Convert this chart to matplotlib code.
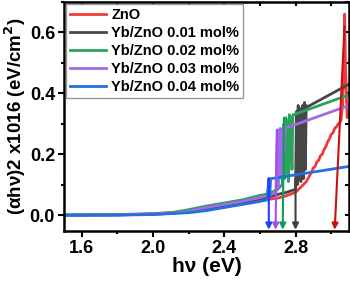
import numpy as np
import matplotlib
matplotlib.use('Agg')
import matplotlib.pyplot as plt
from matplotlib.ticker import MultipleLocator

plt.rcParams['font.family'] = ['Liberation Sans', 'DejaVu Sans']
plt.rcParams['font.weight'] = 'bold'

labels = ['ZnO', 'Yb/ZnO 0.01 mol%', 'Yb/ZnO 0.02 mol%',
          'Yb/ZnO 0.03 mol%', 'Yb/ZnO 0.04 mol%']
colors = ['#f03a3a', '#474747', '#2aa45a', '#a468e8', '#2070e0']
arrow_colors = ['#c81010', '#404040', '#109a60', '#a050f0', '#2040ff']

# ZnO
x_zno = [1.5, 1.8, 2.0, 2.2, 2.4, 2.5, 2.6, 2.7, 2.75, 2.8, 2.83, 2.86, 2.88,
         2.9, 2.91, 2.92, 2.93, 2.94, 2.95, 2.96, 2.97, 2.98, 2.99, 3.0, 3.01,
         3.02, 3.03, 3.04, 3.05, 3.055, 3.06, 3.065, 3.07, 3.073, 3.076, 3.08,
         3.085, 3.09, 3.1]
y_zno = [0.0, 0.002, 0.005, 0.012, 0.028, 0.038, 0.048, 0.056, 0.064, 0.075,
         0.092, 0.11, 0.13, 0.155, 0.16, 0.175, 0.18, 0.195, 0.2, 0.215, 0.225,
         0.24, 0.25, 0.265, 0.27, 0.285, 0.29, 0.3, 0.305, 0.31, 0.34, 0.36,
         0.5, 0.42, 0.66, 0.5, 0.4, 0.32, 0.34]

# Yb 0.01
x_01 = [1.5, 1.8, 2.0, 2.2, 2.3, 2.4, 2.5, 2.6, 2.65, 2.7, 2.75, 2.8,
        2.805, 2.81, 2.815, 2.82, 2.825, 2.83, 2.835, 2.84, 2.845, 2.85,
        2.855, 2.86, 2.865, 3.1]
y_01 = [0.0, 0.001, 0.003, 0.01, 0.02, 0.03, 0.04, 0.05, 0.06, 0.068, 0.075,
        0.085, 0.34, 0.1, 0.36, 0.12, 0.35, 0.11, 0.2, 0.36, 0.12, 0.37, 0.15,
        0.36, 0.355, 0.43]

# Yb 0.02
x_02 = [1.5, 1.8, 2.0, 2.1, 2.2, 2.3, 2.4, 2.5, 2.6, 2.65, 2.7, 2.725,
        2.735, 2.74, 2.745, 2.75, 2.755, 2.76, 2.765, 2.77, 2.775, 2.78,
        2.785, 2.79, 3.1]
y_02 = [0.0, 0.001, 0.004, 0.008, 0.018, 0.03, 0.04, 0.05, 0.065, 0.07,
        0.085, 0.1, 0.3, 0.12, 0.32, 0.14, 0.31, 0.11, 0.33, 0.18, 0.32, 0.15,
        0.33, 0.33, 0.395]

# Yb 0.03
x_03 = [1.5, 1.8, 2.0, 2.1, 2.2, 2.3, 2.4, 2.5, 2.6, 2.65, 2.69, 2.698,
        2.702, 2.706, 2.71, 2.714, 2.718, 2.722, 2.726, 2.73, 2.735, 2.74,
        3.1]
y_03 = [0.0, 0.001, 0.003, 0.006, 0.012, 0.025, 0.035, 0.045, 0.058, 0.065,
        0.075, 0.28, 0.09, 0.27, 0.12, 0.285, 0.15, 0.27, 0.13, 0.28, 0.2,
        0.285, 0.36]

# Yb 0.04
x_04 = [1.5, 1.8, 2.0, 2.2, 2.3, 2.4, 2.5, 2.6, 2.64, 2.65, 2.655, 2.66,
        2.665, 3.1]
y_04 = [0.0, 0.0, 0.002, 0.008, 0.015, 0.025, 0.035, 0.045, 0.05, 0.12,
        0.06, 0.12, 0.12, 0.16]

xs = [x_zno, x_01, x_02, x_03, x_04]
ys = [y_zno, y_01, y_02, y_03, y_04]

# tangent arrows: start (x, y) -> band gap on the axis
arrow_start = [(3.075, 0.62), (2.80, 0.12), (2.735, 0.32), (2.695, 0.28), (2.65, 0.12)]
band_gap = [3.02, 2.80, 2.728, 2.688, 2.65]

fig = plt.figure(figsize=(3.5, 2.81), dpi=100)
ax = fig.add_axes([0.183, 0.178, 0.814, 0.815])

for x, y, c, lab in zip(xs, ys, colors, labels):
    ax.plot(x, y, color=c, lw=2, label=lab)

for (sx, sy), eg, c in zip(arrow_start, band_gap, arrow_colors):
    ax.annotate('', xy=(eg, -0.048), xytext=(sx, sy),
                arrowprops=dict(arrowstyle='-|>', color=c, lw=1.5,
                                mutation_scale=9, shrinkA=0, shrinkB=0),
                zorder=5)

ax.set_xlim(1.5, 3.1)
ax.set_ylim(-0.052, 0.70)
ax.xaxis.set_major_locator(MultipleLocator(0.4))
ax.xaxis.set_minor_locator(MultipleLocator(0.2))
ax.yaxis.set_major_locator(MultipleLocator(0.2))
ax.yaxis.set_minor_locator(MultipleLocator(0.1))
ax.tick_params(which='major', direction='out', length=4, width=1.5, labelsize=13, pad=2.5)
ax.tick_params(which='minor', direction='out', length=2.5, width=1.5)
ax.xaxis.set_major_formatter(plt.FuncFormatter(lambda v, p: f'{v:.1f}'))
ax.yaxis.set_major_formatter(plt.FuncFormatter(lambda v, p: f'{v:.1f}'))
for lbl in ax.get_xticklabels() + ax.get_yticklabels():
    lbl.set_fontweight('bold')
for s in ax.spines.values():
    s.set_linewidth(1.8)

top = ax.secondary_xaxis('top')
top.xaxis.set_major_locator(MultipleLocator(0.4))
top.xaxis.set_minor_locator(MultipleLocator(0.2))
top.tick_params(which='both', direction='in', labeltop=False, length=3, width=1.5)
right = ax.secondary_yaxis('right')
right.yaxis.set_major_locator(MultipleLocator(0.2))
right.yaxis.set_minor_locator(MultipleLocator(0.1))
right.tick_params(which='both', direction='in', labelright=False, length=3, width=1.5)

ax.set_xlabel('hν (eV)', fontsize=15, fontweight='bold', labelpad=0)
ax.set_ylabel('(αhν)2 x1016 (eV/cm$^\\mathbf{2}$)', fontsize=13.5, fontweight='bold', labelpad=1)

leg = ax.legend(loc='upper left', fontsize=10.5, handlelength=2.5, handletextpad=0.35,
                borderaxespad=0.15, borderpad=0.25, labelspacing=0.28,
                fancybox=False, framealpha=1)
leg.get_frame().set_edgecolor('#999999')
leg.get_frame().set_linewidth(1)
for t in leg.get_texts():
    t.set_fontweight('bold')

fig.savefig('out.png', dpi=100)
